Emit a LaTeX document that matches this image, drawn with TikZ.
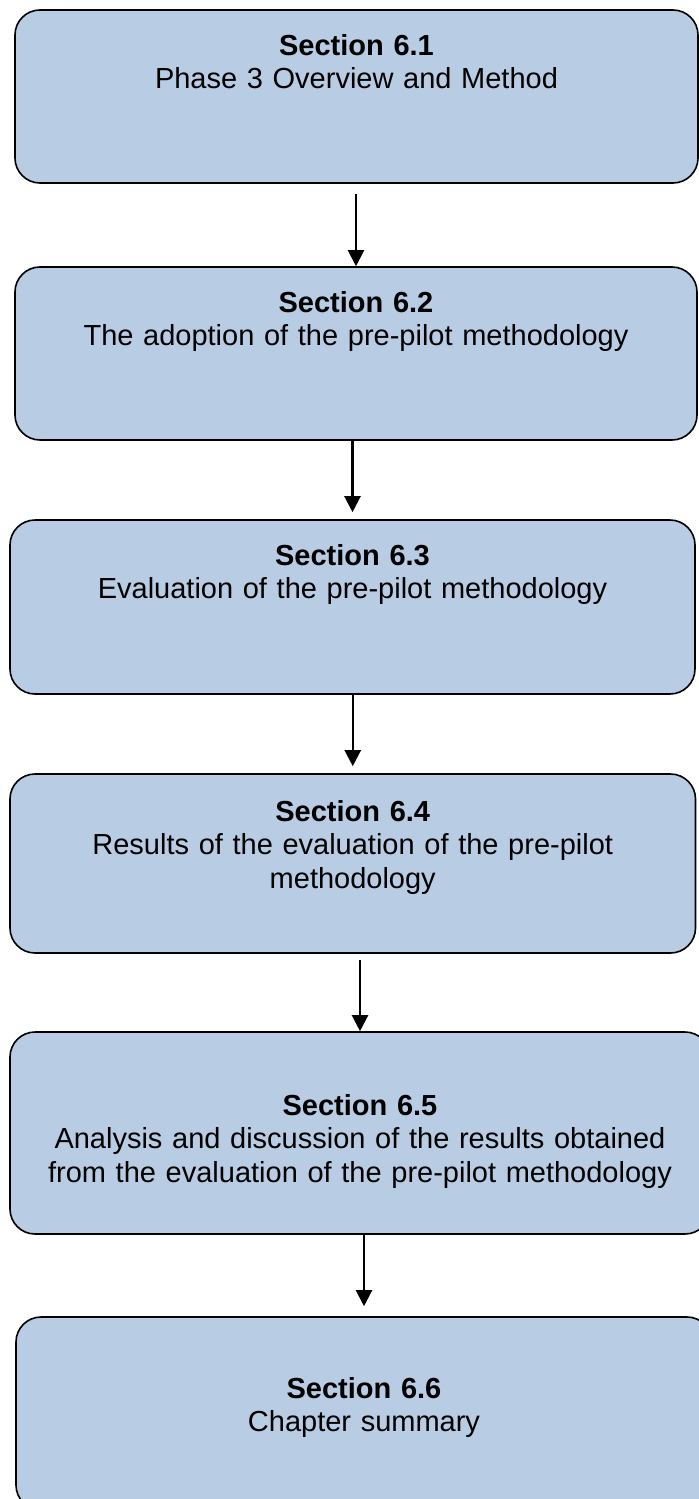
\documentclass[tikz,border=0pt]{standalone}
\usepackage{fontspec}
\setmainfont{Liberation Sans}
\usepackage{xcolor,tikz}
\usetikzlibrary{arrows.meta,positioning}
\definecolor{secblue}{HTML}{B8CCE4}

\begin{document}
\begin{tikzpicture}[x=0.5pt,y=-0.5pt,font=\fontsize{14.5}{16.75}\selectfont,
sec/.style={draw=black,line width=0.8pt,fill=secblue,rounded corners=12.5pt,inner sep=0pt,align=center,text height=22.5pt},
arr/.style={-{Triangle[length=8pt,width=8pt]},line width=1.1pt}]
\useasboundingbox (0,0) rectangle (699,1499);
\node[sec,text width=341.5pt,text depth=64pt] (s1) at (356.5,96.5) {\textbf{Section 6.1}\\Phase 3 Overview and Method};
\node[sec,text width=341pt,text depth=64pt] (s2) at (356,353.5) {\textbf{Section 6.2}\\The adoption of the pre-pilot methodology};
\node[sec,text width=342.5pt,text depth=64.5pt] (s3) at (352.5,607) {\textbf{Section 6.3}\\Evaluation of the pre-pilot methodology};
\node[sec,text width=342.75pt,text height=23.5pt,text depth=66pt] (s4) at (352.75,863.5) {\textbf{Section 6.4}\\Results of the evaluation of the pre-pilot\\methodology};
\node[sec,text width=350pt,text height=41.5pt,text depth=59.5pt] (s5) at (360,1133) {\textbf{Section 6.5}\\Analysis and discussion of the results obtained\\from the evaluation of the pre-pilot methodology};
\node[sec,text width=348pt,text height=40.5pt,text depth=56pt] (s6) at (364,1413.5) {\textbf{Section 6.6}\\Chapter summary};
% arrows go down the middle of the box they point at
\draw[arr,shorten <=5pt] (s1.south -| s2.north)--(s2.north);
\draw[arr,shorten >=3.5pt] (s2.south -| s3.north)--(s3.north);
\draw[arr,shorten >=3.5pt] (s3.south -| s4.north)--(s4.north);
\draw[arr,shorten <=3pt] (s4.south -| s5.north)--(s5.north);
\draw[arr,shorten >=5pt] (s5.south -| s6.north)--(s6.north);
\end{tikzpicture}
\end{document}
